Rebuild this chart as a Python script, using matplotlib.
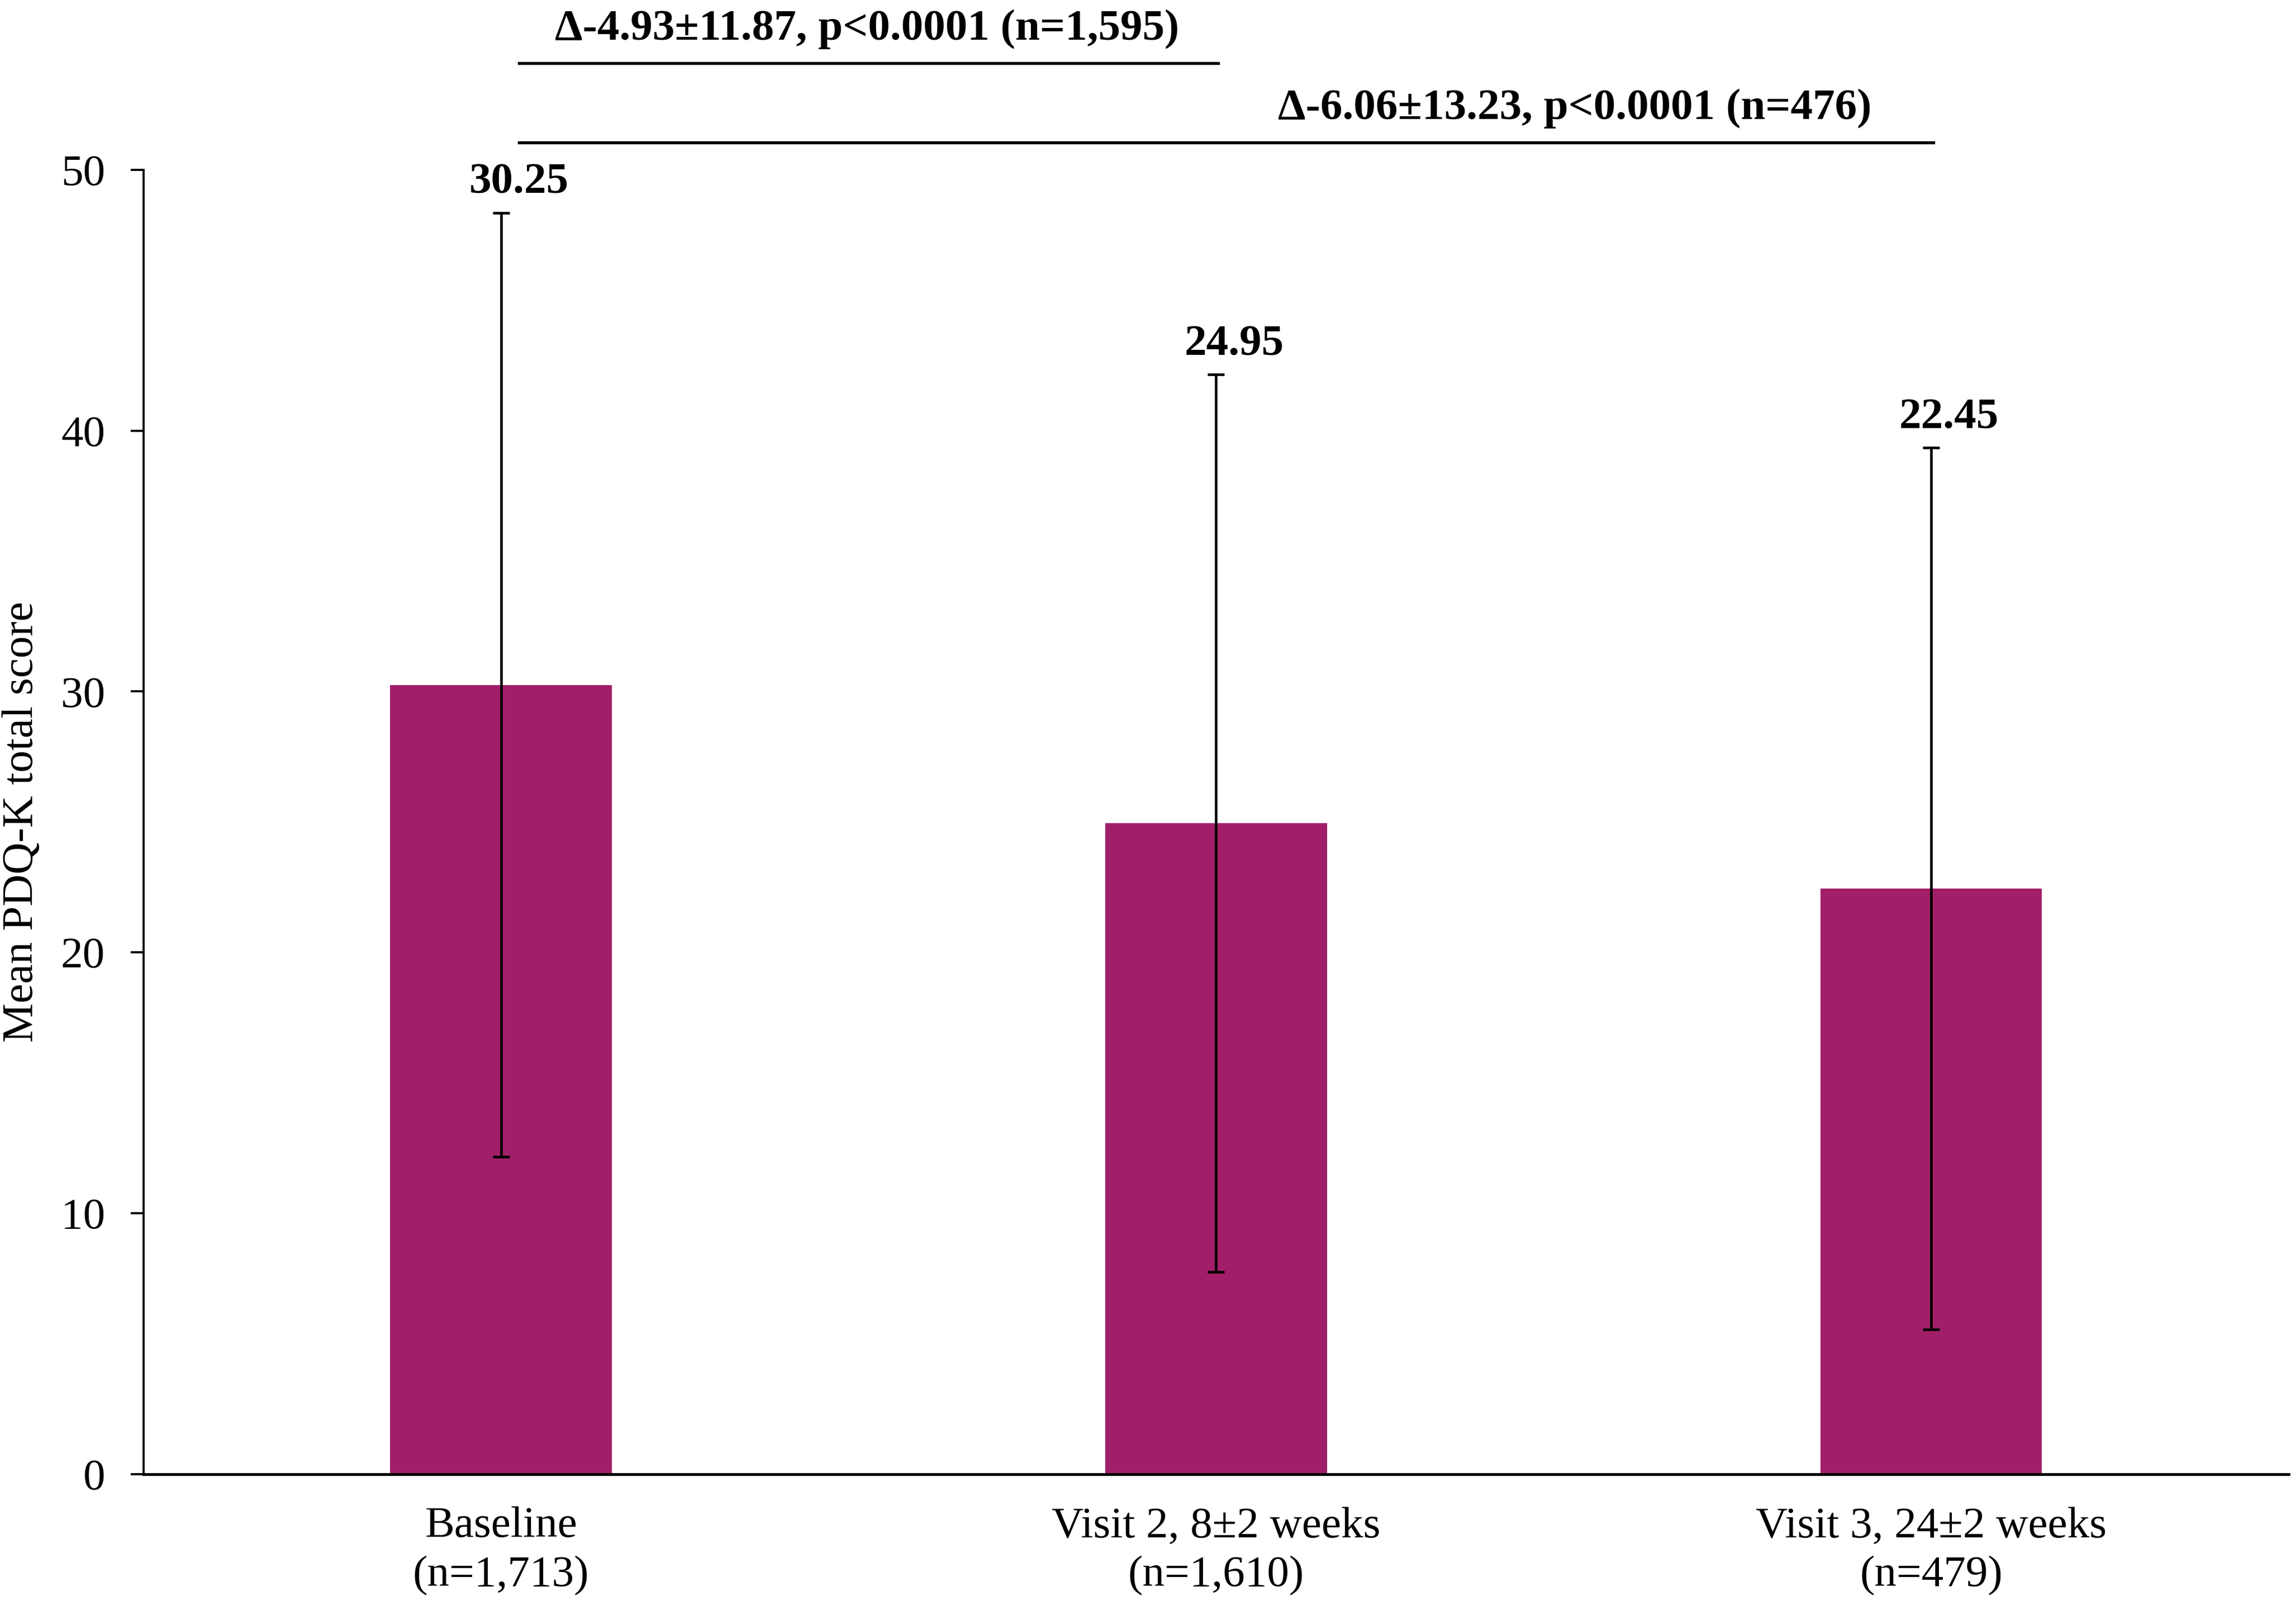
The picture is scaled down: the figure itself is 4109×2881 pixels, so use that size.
import matplotlib.pyplot as plt

# Data
categories = ["Baseline\n(n=1,713)", "Visit 2, 8±2 weeks\n(n=1,610)", "Visit 3, 24±2 weeks\n(n=479)"]
means = [30.25, 24.95, 22.45]
sds = [18.1, 17.2, 16.9]
labels = ["30.25", "24.95", "22.45"]
comp_text = ["Δ-4.93±11.87, p<0.0001 (n=1,595)", "Δ-6.06±13.23, p<0.0001 (n=476)"]
comp_pairs = [(0, 1), (0, 2)]

plt.rcParams['font.family'] = ['Liberation Serif', 'DejaVu Serif']
plt.rcParams['font.size'] = 19

fig = plt.figure(figsize=(4109 / 300, 2881 / 300), dpi=300)
ax = fig.add_axes([0.0625, 0.0845, 0.9343, 0.81])

x = list(range(len(means)))
ax.bar(x, means, width=0.31, color='#A11F68', zorder=2)
ax.errorbar(x, means, yerr=sds, fmt='none', ecolor='black', elinewidth=1.1,
            capsize=3.5, capthick=1.1, zorder=3)

# Value labels above error bars
for xi, m, s, lab in zip(x, means, sds, labels):
    ax.text(xi + 0.025, m + s + 0.75, lab, ha='center', va='baseline',
            fontweight='bold', fontsize=19)

# Comparison brackets (above the axes)
line_y = [54.1, 51.05]
text_y = [55.0, 51.95]
text_x = [0.512, 1.502]
for (a, b), ly, ty, tx, t in zip(comp_pairs, line_y, text_y, text_x, comp_text):
    ax.plot([a + 0.025, b + 0.003], [ly, ly], color='black', lw=1.3, clip_on=False)
    ax.text(tx, ty, t, ha='center', va='baseline', fontweight='bold', fontsize=19,
            clip_on=False)

ax.set_xlim(-0.5, 2.5)
ax.set_ylim(0, 50)
ax.set_yticks([0, 10, 20, 30, 40, 50])
ax.set_xticks(x)
ax.set_xticklabels(categories, linespacing=1.3)
ax.tick_params(axis='x', length=0, pad=14)
ax.tick_params(axis='y', direction='out', length=5.5, width=0.9, pad=11)
ax.set_ylabel("Mean PDQ-K total score")
ax.yaxis.set_label_coords(-0.0474, 0.5)

ax.spines['top'].set_visible(False)
ax.spines['right'].set_visible(False)
ax.spines['left'].set_linewidth(0.9)
ax.spines['bottom'].set_linewidth(1.2)

fig.savefig("out.png", dpi=300)
